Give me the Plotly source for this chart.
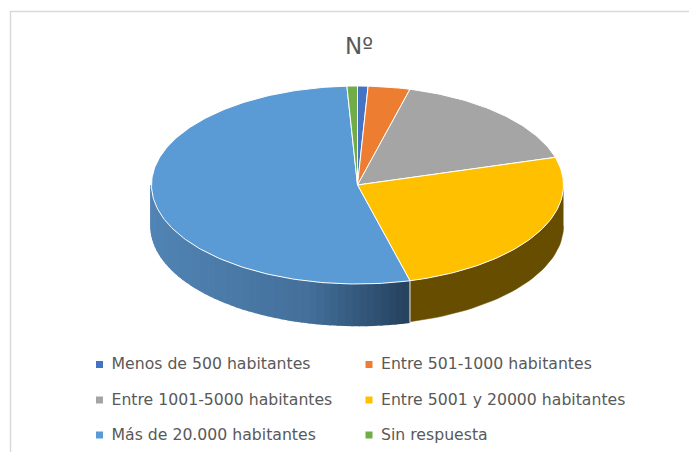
import math
import plotly.graph_objects as go

categories = ["Menos de 500 habitantes", "Entre 501-1000 habitantes",
              "Entre 1001-5000 habitantes", "Entre 5001 y 20000 habitantes",
              "Más de 20.000 habitantes", "Sin respuesta"]
values = [1, 4, 20, 31, 65, 1]
colors = ["#4472C4", "#ED7D31", "#A5A5A5", "#FFC000", "#5B9BD5", "#70AD47"]
title_text = "Nº"

W, H = 689, 452
CX, CY, RX, RY, DEPTH = 357.5, 185, 206, 99, 41
FONT = "DejaVu Sans"
TEXT_COLOR = "#595959"


def pt(deg, drop=0):
    a = math.radians(deg)
    return CX + RX * math.sin(a), CY - RY * math.cos(a) + drop


def mix(c1, c2, t):
    return "rgb(%d,%d,%d)" % tuple(round(a + (b - a) * t) for a, b in zip(c1, c2))


fig = go.Figure()
total = sum(values)
edges = [0]
for v in values:
    edges.append(edges[-1] + v / total * 360)


def wall(a0, a1, color, lw):
    fig.add_trace(go.Scatter(
        x=[p[0] for p in a0] + [p[0] for p in a1],
        y=[p[1] for p in a0] + [p[1] for p in a1],
        mode="lines", fill="toself", fillcolor=color,
        line=dict(color=color, width=lw), hoverinfo="skip", showlegend=False))


def arc(d0, d1, drop=0, n=3):
    return [pt(d0 + (d1 - d0) * i / n, drop) for i in range(n + 1)]


# side wall: only the part of the rim that faces the viewer (90..270 degrees)
for i, (v, col) in enumerate(zip(values, colors)):
    lo, hi = max(edges[i], 90), min(edges[i + 1], 270)
    if hi <= lo:
        continue
    if col == "#5B9BD5":
        steps = int((hi - lo) / 2)
        for s in range(steps):
            d0 = lo + (hi - lo) * s / steps
            d1 = lo + (hi - lo) * (s + 1) / steps
            t = (pt((d0 + d1) / 2)[0] - (CX - RX)) / (pt(lo)[0] - (CX - RX))
            shade = mix((81, 132, 180), (68, 112, 155), t / 0.6) if t < 0.6 \
                else mix((68, 112, 155), (37, 65, 94), (t - 0.6) / 0.4)
            wall(arc(d0, d1), arc(d1, d0, DEPTH), shade, 2.5)
    else:
        wall(arc(lo, hi, 0, 40), arc(hi, lo, DEPTH, 40), "#664D00", 0.5)

# separators on the wall
for e in edges[1:-1]:
    if 90 < e < 270:
        x0, y0 = pt(e)
        fig.add_trace(go.Scatter(x=[x0, x0], y=[y0, y0 + DEPTH + 1], mode="lines",
                                 line=dict(color="#E8E8E8", width=1),
                                 hoverinfo="skip", showlegend=False))

# top face
for i, (v, col) in enumerate(zip(values, colors)):
    n = max(4, int(v / total * 360))
    rim = arc(edges[i], edges[i + 1], 0, n)
    fig.add_trace(go.Scatter(
        x=[CX] + [p[0] for p in rim] + [CX],
        y=[CY] + [p[1] for p in rim] + [CY],
        mode="lines", fill="toself", fillcolor=col,
        line=dict(color="#FFFFFF", width=1),
        name=categories[i], hoverinfo="name", showlegend=False))

# legend, two columns by three rows
LEG_X = [99.5, 369]
LEG_Y = [364.5, 400, 435]
TEXT_DX, TEXT_DY = 12, 1
for i, (name, col) in enumerate(zip(categories, colors)):
    mx, my = LEG_X[i % 2], LEG_Y[i // 2]
    fig.add_trace(go.Scatter(
        x=[mx], y=[my], mode="markers",
        marker=dict(symbol="square", size=7, color=col, line=dict(width=0)),
        hoverinfo="skip", showlegend=False))
    fig.add_trace(go.Scatter(
        x=[mx + TEXT_DX], y=[my + TEXT_DY], mode="text",
        text=[name], textposition="middle right",
        textfont=dict(family=FONT, size=15.7, color=TEXT_COLOR),
        hoverinfo="skip", showlegend=False))

fig.update_layout(
    width=W, height=H, autosize=False,
    margin=dict(l=0, r=0, t=0, b=0),
    paper_bgcolor="white", plot_bgcolor="white",
    showlegend=False,
    xaxis=dict(range=[0, W], visible=False, fixedrange=True),
    yaxis=dict(range=[H, 0], visible=False, fixedrange=True),
    annotations=[dict(x=359, y=46, xref="x", yref="y", text=title_text,
                      showarrow=False,
                      font=dict(family=FONT, size=23, color=TEXT_COLOR))],
    shapes=[
        dict(type="line", x0=10.5, x1=10.5, y0=11, y1=H, xref="x", yref="y",
             line=dict(color="#D9D9D9", width=1.5)),
        dict(type="line", x0=10, x1=W, y0=11.5, y1=11.5, xref="x", yref="y",
             line=dict(color="#D9D9D9", width=1.5)),
    ],
)
fig.write_html("out.html", config=dict(displayModeBar=False),
               post_script="document.body.style.margin='0';")
